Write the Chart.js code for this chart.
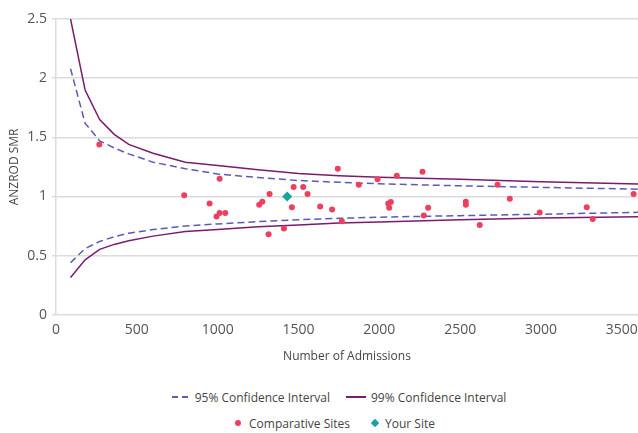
<!DOCTYPE html>
<html>
<head>
<meta charset="utf-8">
<script src="https://cdn.jsdelivr.net/npm/chart.js@4/dist/chart.umd.min.js"></script>
<style>
  html, body { margin: 0; padding: 0; background: #fff; }
  #wrap { position: relative; width: 638px; height: 433px; font-family: "Open Sans", sans-serif; }
  #plot { position: absolute; left: 0; top: 0; width: 638px; height: 371px; }
  #legend { position: absolute; left: 40px; top: 384px; width: 598px; color: #444; font-size: 12px; }
  .row { display: flex; justify-content: center; align-items: center; height: 26px; }
  .item { display: flex; align-items: center; margin: 0 8px; }
  .dash { display: inline-block; width: 16px; height: 1.5px; margin-right: 7px;
          background: linear-gradient(90deg, #5b5bb5 0 6px, transparent 6px 10px, #5b5bb5 10px 16px); }
  .solid { display: inline-block; width: 20px; height: 1.5px; background: #7a1c6e; margin-right: 5px; }
  .dot { display: inline-block; width: 6px; height: 6px; border-radius: 50%; background: #ee3f5d; margin-right: 8px; }
  .diamond { display: inline-block; width: 6px; height: 6px; background: #17a2a4; transform: rotate(45deg); margin-right: 7px; }
  .row2 { margin-left: -8px; }
  .row2 .item { margin: 0 11px; }
</style>
</head>
<body>
<div id="wrap">
  <div id="plot"><canvas id="smrChart"></canvas></div>
  <div id="legend">
    <div class="row">
      <span class="item"><span class="dash"></span>95% Confidence Interval</span>
      <span class="item"><span class="solid"></span>99% Confidence Interval</span>
    </div>
    <div class="row row2">
      <span class="item"><span class="dot"></span>Comparative Sites</span>
      <span class="item"><span class="diamond"></span>Your Site</span>
    </div>
  </div>
</div>
<script>
// funnel limits by number of admissions
const limitAdmissions = [90, 180, 270, 360, 450, 600, 800, 1000, 1250, 1500, 1750, 2000, 2500, 3000, 3600];
const upper99 = [2.5, 1.90, 1.65, 1.525, 1.44, 1.365, 1.29, 1.262, 1.225, 1.195, 1.176, 1.163, 1.146, 1.125, 1.105];
const upper95 = [2.08, 1.62, 1.47, 1.41, 1.36, 1.29, 1.235, 1.19, 1.16, 1.135, 1.12, 1.107, 1.09, 1.077, 1.062];
const lower95 = [0.44, 0.56, 0.62, 0.66, 0.69, 0.72, 0.75, 0.768, 0.787, 0.803, 0.815, 0.825, 0.838, 0.85, 0.866];
const lower99 = [0.316, 0.465, 0.553, 0.595, 0.625, 0.665, 0.705, 0.72, 0.745, 0.76, 0.775, 0.785, 0.803, 0.818, 0.828];

// other sites
const siteAdmissions = [268, 793, 950, 993, 1012, 1012, 1047, 1257, 1276, 1315, 1321, 1410, 1459, 1470, 1529, 1556,
  1634, 1708, 1743, 1768, 1873, 1989, 2055, 2061, 2071, 2108, 2267, 2275, 2302, 2535, 2535, 2621, 2731, 2807,
  2992, 3283, 3320, 3573];
const siteSMR = [1.44, 1.01, 0.94, 0.83, 0.86, 1.15, 0.86, 0.93, 0.955, 0.68, 1.02, 0.73, 0.91, 1.08, 1.08, 1.02,
  0.915, 0.89, 1.235, 0.79, 1.10, 1.145, 0.94, 0.905, 0.953, 1.175, 1.21, 0.84, 0.905, 0.955, 0.93, 0.76, 1.10, 0.98,
  0.865, 0.91, 0.81, 1.02];

const yourAdmissions = [1430];
const yourSMR = [1.0];

const xTicks = [0, 500, 1000, 1500, 2000, 2500, 3000, 3500];
const yTicks = [0, 0.5, 1, 1.5, 2, 2.5];

const toPoints = (xs, ys) => xs.map((x, i) => ({ x: x, y: ys[i] }));

const lineSet = (label, ys, color, dash) => ({
  label: label,
  data: toPoints(limitAdmissions, ys),
  showLine: true,
  borderColor: color,
  borderWidth: 1.5,
  borderDash: dash,
  pointRadius: 0,
  fill: false
});

const ctx = document.getElementById('smrChart').getContext('2d');
new Chart(ctx, {
  type: 'scatter',
  data: {
    datasets: [
      {
        label: 'Your Site',
        data: toPoints(yourAdmissions, yourSMR),
        pointStyle: 'rectRot',
        pointRadius: 5,
        backgroundColor: '#17a2a4',
        borderWidth: 0
      },
      {
        label: 'Comparative Sites',
        data: toPoints(siteAdmissions, siteSMR),
        pointRadius: 3,
        backgroundColor: '#ee3f5d',
        borderWidth: 0
      },
      lineSet('95% Confidence Interval', upper95, '#5b5bb5', [7, 4]),
      lineSet('95% Confidence Interval', lower95, '#5b5bb5', [7, 4]),
      lineSet('99% Confidence Interval', upper99, '#7a1c6e', []),
      lineSet('99% Confidence Interval', lower99, '#7a1c6e', [])
    ]
  },
  options: {
    responsive: true,
    maintainAspectRatio: false,
    animation: false,
    layout: { autoPadding: false, padding: { top: 19, right: 0, bottom: 7, left: 7 } },
    plugins: {
      legend: { display: false },
      tooltip: { enabled: false }
    },
    scales: {
      x: {
        type: 'linear',
        min: 0,
        max: 3600,
        grid: { display: false, drawTicks: false },
        border: { display: false },
        afterBuildTicks: axis => { axis.ticks = xTicks.map(v => ({ value: v })); },
        // let the plot run right up to the canvas edge
        afterFit: axis => { axis.paddingRight = 0; },
        ticks: {
          color: '#555', padding: 7, maxRotation: 0,
          font: { family: 'Open Sans', size: 14 },
          callback: v => String(v)
        },
        title: {
          display: true,
          text: 'Number of Admissions',
          color: '#444',
          font: { family: 'Open Sans', size: 12 },
          padding: { top: 4, bottom: 0 }
        }
      },
      y: {
        min: 0,
        max: 2.5,
        afterBuildTicks: axis => { axis.ticks = yTicks.map(v => ({ value: v })); },
        afterFit: axis => { axis.width = 49; },
        grid: { color: '#dcdcdc', lineWidth: 1.5, tickLength: 4 },
        border: { display: true, color: '#dcdcdc', width: 1.5 },
        ticks: {
          color: '#555', padding: 5,
          font: { family: 'Open Sans', size: 14 },
          callback: v => String(v)
        },
        title: {
          display: true,
          text: 'ANZROD SMR',
          color: '#444',
          font: { family: 'Open Sans', size: 12 },
          padding: { top: 0, bottom: 0 }
        }
      }
    }
  }
});
</script>
</body>
</html>
